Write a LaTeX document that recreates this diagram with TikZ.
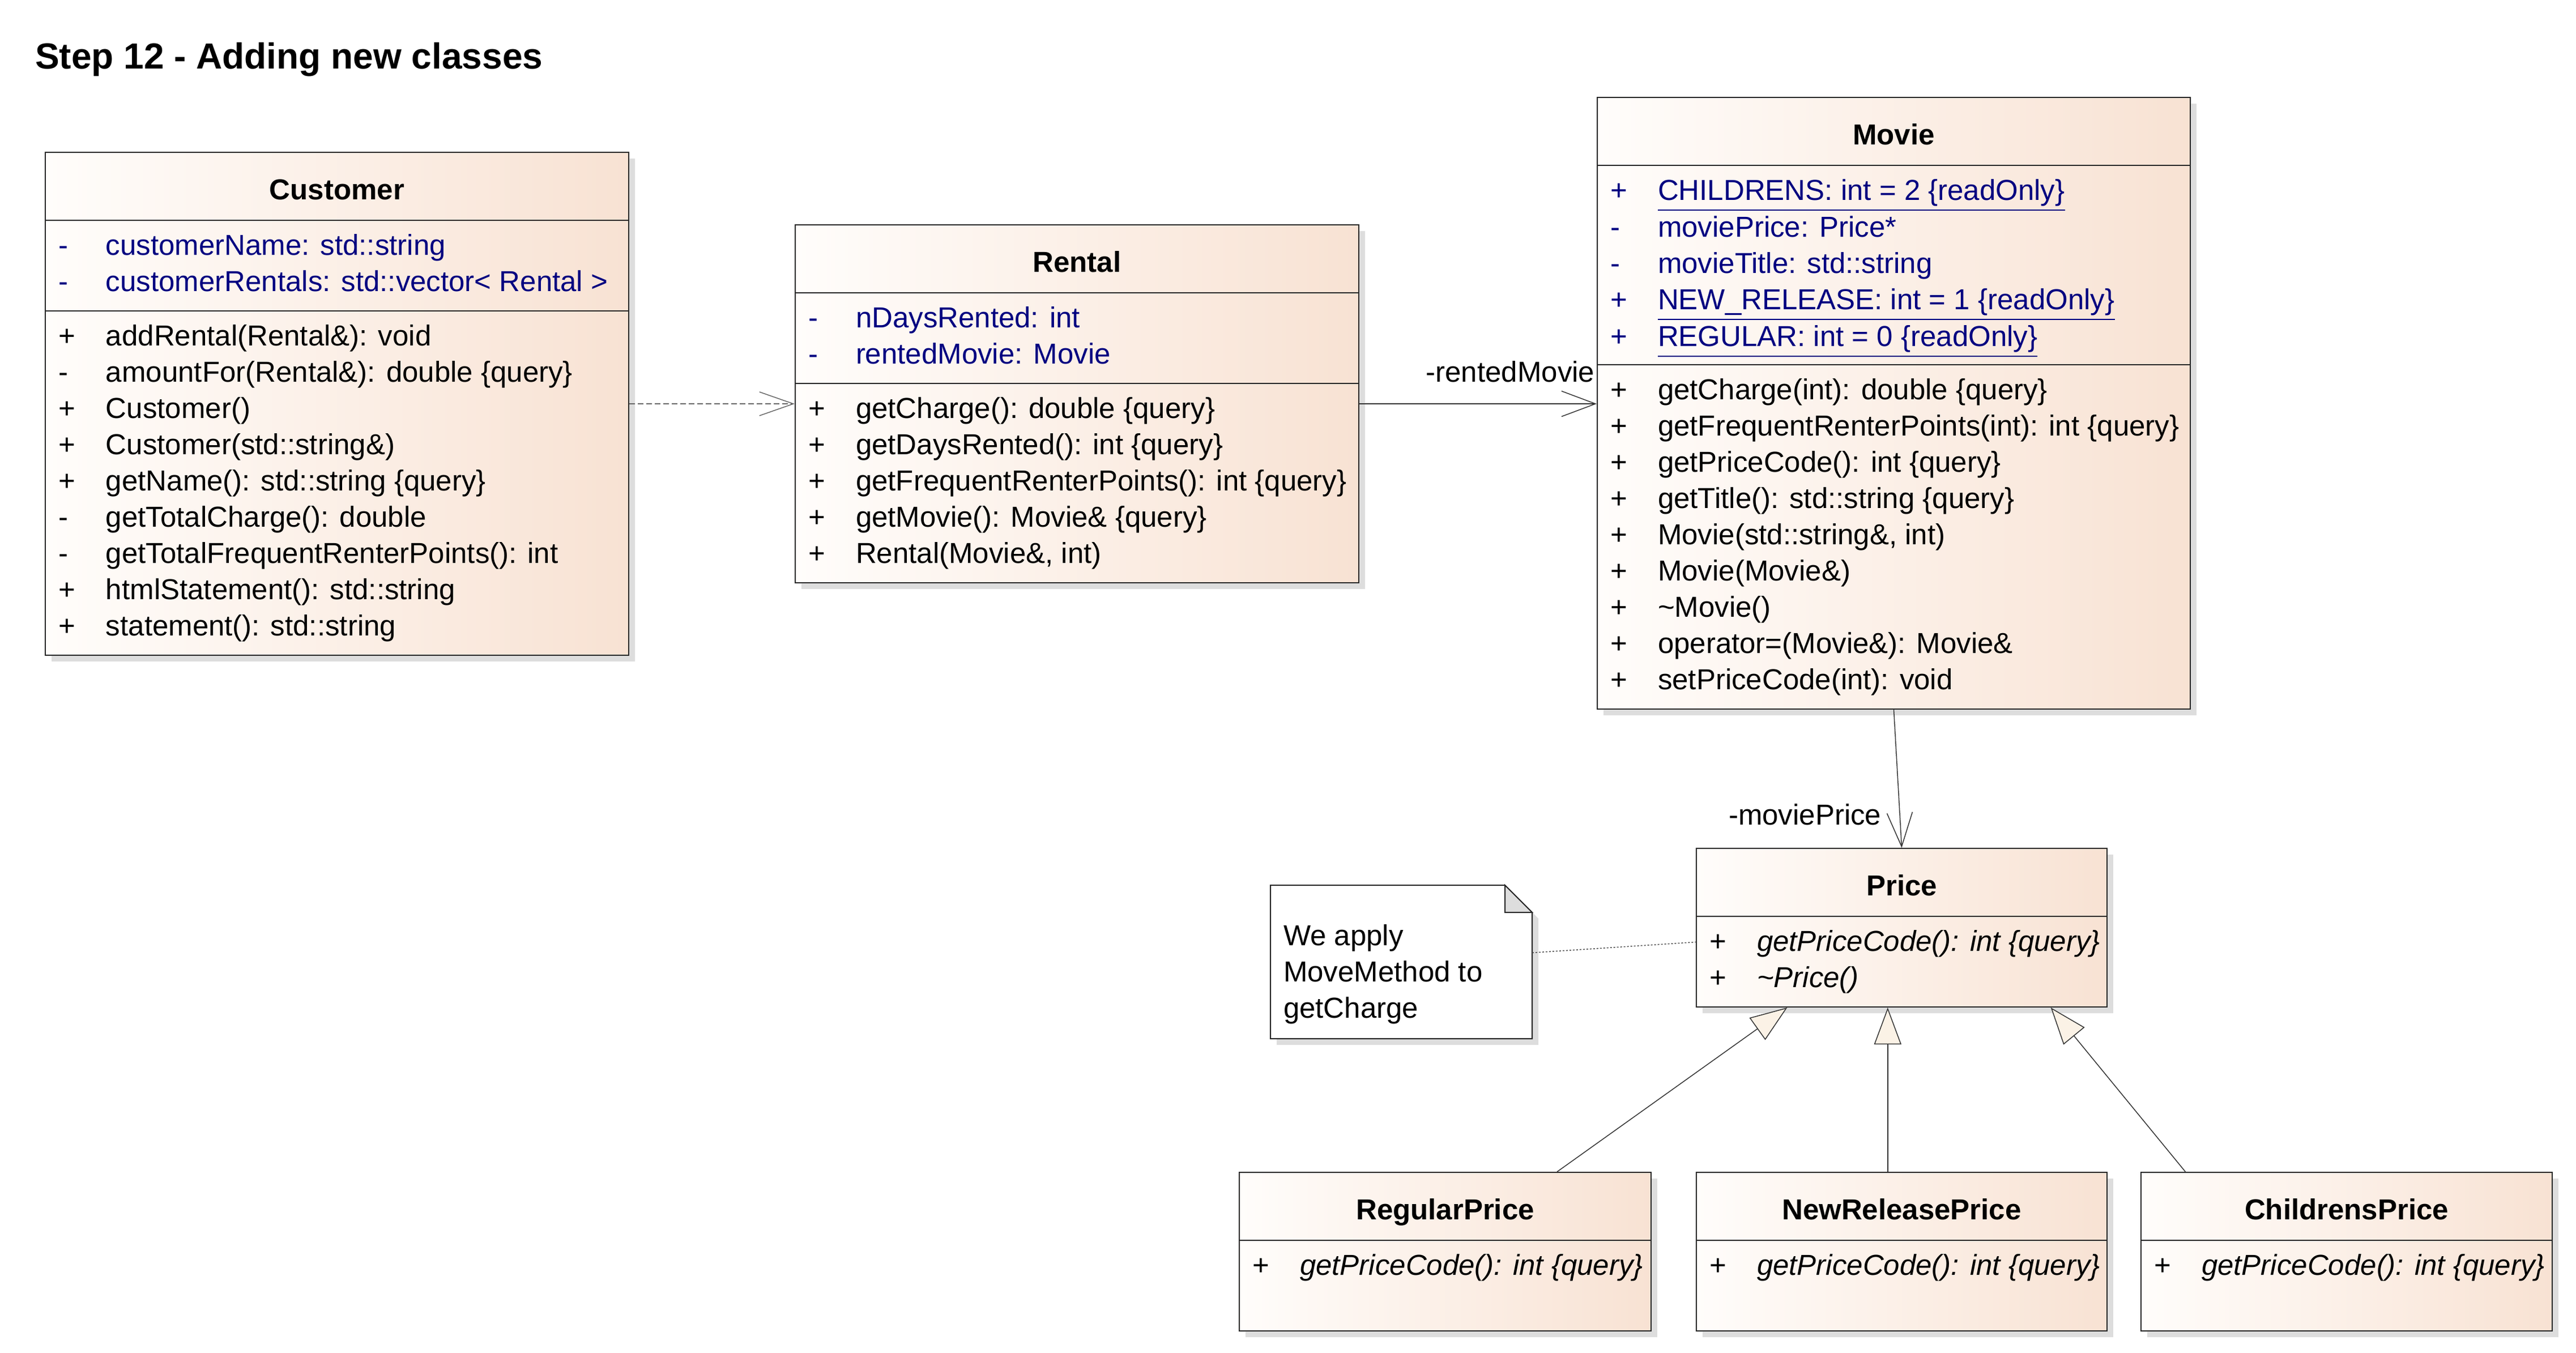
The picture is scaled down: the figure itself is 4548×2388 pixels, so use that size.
\documentclass[tikz,border=0pt]{standalone}
\usepackage{fontspec}
\setmainfont{Liberation Sans}
\usetikzlibrary{arrows.meta}
\usetikzlibrary{calc,fit,shadows}

\definecolor{boxleft}{HTML}{FFFDFB}
\definecolor{boxright}{HTML}{F8E2D3}
\definecolor{attrblue}{HTML}{000080}
\definecolor{shadowgray}{HTML}{DDDDDD}
\definecolor{gencream}{HTML}{FBF2E6}

\newcommand{\umlvis}[1]{\makebox[16.8pt][l]{#1}}

\tikzset{
	classbox/.style={draw=black!85, line width=0.4pt, left color=boxleft, right color=boxright, inner sep=0pt,
		drop shadow={shadow xshift=2.2pt, shadow yshift=-2.2pt, fill=shadowgray, opacity=1}},
	classname/.style={anchor=base, inner sep=0pt, font=\fontsize{10.2pt}{12.8pt}\selectfont\bfseries},
	members/.style={anchor=base west, inner sep=0pt, font=\fontsize{10.2pt}{12.8pt}\selectfont},
	attrs/.style={members, text=attrblue},
	divider/.style={draw=black!85, line width=0.4pt},
	role/.style={inner sep=0pt, font=\fontsize{10.2pt}{12.8pt}\selectfont},
	depend/.style={draw=black!60, line width=0.3pt, dash pattern=on 2pt off 1pt, -{Straight Barb[length=12pt,width=8.4pt]}},
	assoc/.style={draw=black!80, line width=0.3pt, -{Straight Barb[length=12pt,width=9pt]}},
	inherit/.style={draw=black!80, line width=0.3pt, -{Triangle[length=13pt,width=9.6pt,fill=gencream]}},
	noteline/.style={draw=black!70, line width=0.3pt, dash pattern=on 0.6pt off 0.6pt}
}

\begin{document}
\begin{tikzpicture}[x=0.2pt, y=-0.2pt]

	\useasboundingbox (0,0) rectangle (4548,2388);

	% Title
	\node[anchor=base west, inner sep=0pt, font=\fontsize{12.8pt}{15pt}\selectfont\bfseries] (title) at (61,121) {Step 12 - Adding new classes};

	% Customer class
	\node[classbox, fit={(80,269) (1110,1157)}] (customer) {};
	\draw[divider] (80,389) -- (1110,389);
	\draw[divider] (80,549) -- (1110,549);
	\node[classname] (customer-name) at (595,352) {Customer};
	\node[attrs] (customer-attrs) at (102,450) {\begin{tabular}[t]{@{}l@{}}
		\umlvis{-}customerName: std::string\\
		\umlvis{-}customerRentals: std::vector< Rental >
	\end{tabular}};
	\node[members] (customer-ops) at (102,610) {\begin{tabular}[t]{@{}l@{}}
		\umlvis{+}addRental(Rental\&): void\\
		\umlvis{-}amountFor(Rental\&): double \{query\}\\
		\umlvis{+}Customer()\\
		\umlvis{+}Customer(std::string\&)\\
		\umlvis{+}getName(): std::string \{query\}\\
		\umlvis{-}getTotalCharge(): double\\
		\umlvis{-}getTotalFrequentRenterPoints(): int\\
		\umlvis{+}htmlStatement(): std::string\\
		\umlvis{+}statement(): std::string
	\end{tabular}};

	% Rental class
	\node[classbox, fit={(1404,397) (2399,1029)}] (rental) {};
	\draw[divider] (1404,517) -- (2399,517);
	\draw[divider] (1404,677) -- (2399,677);
	\node[classname] (rental-name) at (1901.5,480) {Rental};
	\node[attrs] (rental-attrs) at (1426,578) {\begin{tabular}[t]{@{}l@{}}
		\umlvis{-}nDaysRented: int\\
		\umlvis{-}rentedMovie: Movie
	\end{tabular}};
	\node[members] (rental-ops) at (1426,738) {\begin{tabular}[t]{@{}l@{}}
		\umlvis{+}getCharge(): double \{query\}\\
		\umlvis{+}getDaysRented(): int \{query\}\\
		\umlvis{+}getFrequentRenterPoints(): int \{query\}\\
		\umlvis{+}getMovie(): Movie\& \{query\}\\
		\umlvis{+}Rental(Movie\&, int)
	\end{tabular}};

	% Movie class
	\node[classbox, fit={(2820,172) (3867,1252)}] (movie) {};
	\draw[divider] (2820,292) -- (3867,292);
	\draw[divider] (2820,644) -- (3867,644);
	\node[classname] (movie-name) at (3343.5,255) {Movie};
	\node[attrs] (movie-attrs) at (2842,353) {\begin{tabular}[t]{@{}l@{}}
		\umlvis{+}\underline{CHILDRENS: int = 2 \{readOnly\}}\\
		\umlvis{-}moviePrice: Price*\\
		\umlvis{-}movieTitle: std::string\\
		\umlvis{+}\underline{NEW\_RELEASE: int = 1 \{readOnly\}}\\
		\umlvis{+}\underline{REGULAR: int = 0 \{readOnly\}}
	\end{tabular}};
	\node[members] (movie-ops) at (2842,705) {\begin{tabular}[t]{@{}l@{}}
		\umlvis{+}getCharge(int): double \{query\}\\
		\umlvis{+}getFrequentRenterPoints(int): int \{query\}\\
		\umlvis{+}getPriceCode(): int \{query\}\\
		\umlvis{+}getTitle(): std::string \{query\}\\
		\umlvis{+}Movie(std::string\&, int)\\
		\umlvis{+}Movie(Movie\&)\\
		\umlvis{+}\textasciitilde Movie()\\
		\umlvis{+}operator=(Movie\&): Movie\&\\
		\umlvis{+}setPriceCode(int): void
	\end{tabular}};

	% Price class
	\node[classbox, fit={(2995,1498) (3720,1778)}] (price) {};
	\draw[divider] (2995,1618) -- (3720,1618);
	\node[classname] (price-name) at (3357.5,1581) {Price};
	\node[members] (price-ops) at (3017,1679) {\begin{tabular}[t]{@{}l@{}}
		\umlvis{+}\textit{getPriceCode(): int \{query\}}\\
		\umlvis{+}\textit{\textasciitilde Price()}
	\end{tabular}};

	% Subclasses of Price
	\node[classbox, fit={(2188,2070) (2915,2350)}] (regular) {};
	\draw[divider] (2188,2190) -- (2915,2190);
	\node[classname] (regular-name) at (2551.5,2153) {RegularPrice};
	\node[members] (regular-ops) at (2210,2251) {\umlvis{+}\textit{getPriceCode(): int \{query\}}};

	\node[classbox, fit={(2995,2070) (3720,2350)}] (newrelease) {};
	\draw[divider] (2995,2190) -- (3720,2190);
	\node[classname] (newrelease-name) at (3357.5,2153) {NewReleasePrice};
	\node[members] (newrelease-ops) at (3017,2251) {\umlvis{+}\textit{getPriceCode(): int \{query\}}};

	\node[classbox, fit={(3780,2070) (4506,2350)}] (childrens) {};
	\draw[divider] (3780,2190) -- (4506,2190);
	\node[classname] (childrens-name) at (4143,2153) {ChildrensPrice};
	\node[members] (childrens-ops) at (3802,2251) {\umlvis{+}\textit{getPriceCode(): int \{query\}}};

	% Note
	\node[inner sep=0pt, fit={(2244,1564) (2704,1833)}] (note) {};
	\fill[shadowgray, transform canvas={shift={(2.2pt,-2.2pt)}}] (note.south west) -- (note.north west) -- ($(note.north east)+(-48,0)$) -- ($(note.north east)+(0,48)$) -- (note.south east) -- cycle;
	\filldraw[fill=white, draw=black!85, line width=0.4pt] (note.south west) -- (note.north west) -- ($(note.north east)+(-48,0)$) -- ($(note.north east)+(0,48)$) -- (note.south east) -- cycle;
	\filldraw[fill=shadowgray, draw=black!85, line width=0.4pt] ($(note.north east)+(-48,0)$) -- ($(note.north east)+(-48,48)$) -- ($(note.north east)+(0,48)$) -- cycle;
	\node[members] (note-text) at (2265,1669) {\begin{tabular}[t]{@{}l@{}}
		We apply\\
		MoveMethod to\\
		getCharge
	\end{tabular}};

	% Dependency and associations
	\draw[depend] (customer.east |- rental.west) -- (rental.west);
	\draw[assoc] (rental.east) -- (movie.west |- rental.east)
		node[role, at end, anchor=base east, xshift=-0.6pt, yshift=7.8pt] (rented-role) {-rentedMovie};
	\draw[assoc] (movie.south) -- (price.north)
		node[role, at end, anchor=base east, xshift=-7.1pt, yshift=8.2pt] (price-role) {-moviePrice};

	% Note link
	\draw[noteline] ($(note.north east)!0.44!(note.south east)$) -- ($(price.north west)!0.59!(price.south west)$);

	% Generalizations
	\draw[inherit] ($(regular.north west)!0.771!(regular.north east)$) -- ($(price.south west)!0.222!(price.south east)$);
	\draw[inherit] ($(newrelease.north west)!0.466!(newrelease.north east)$) -- ($(price.south west)!0.466!(price.south east)$);
	\draw[inherit] ($(childrens.north west)!0.109!(childrens.north east)$) -- ($(price.south west)!0.862!(price.south east)$);

\end{tikzpicture}
\end{document}
